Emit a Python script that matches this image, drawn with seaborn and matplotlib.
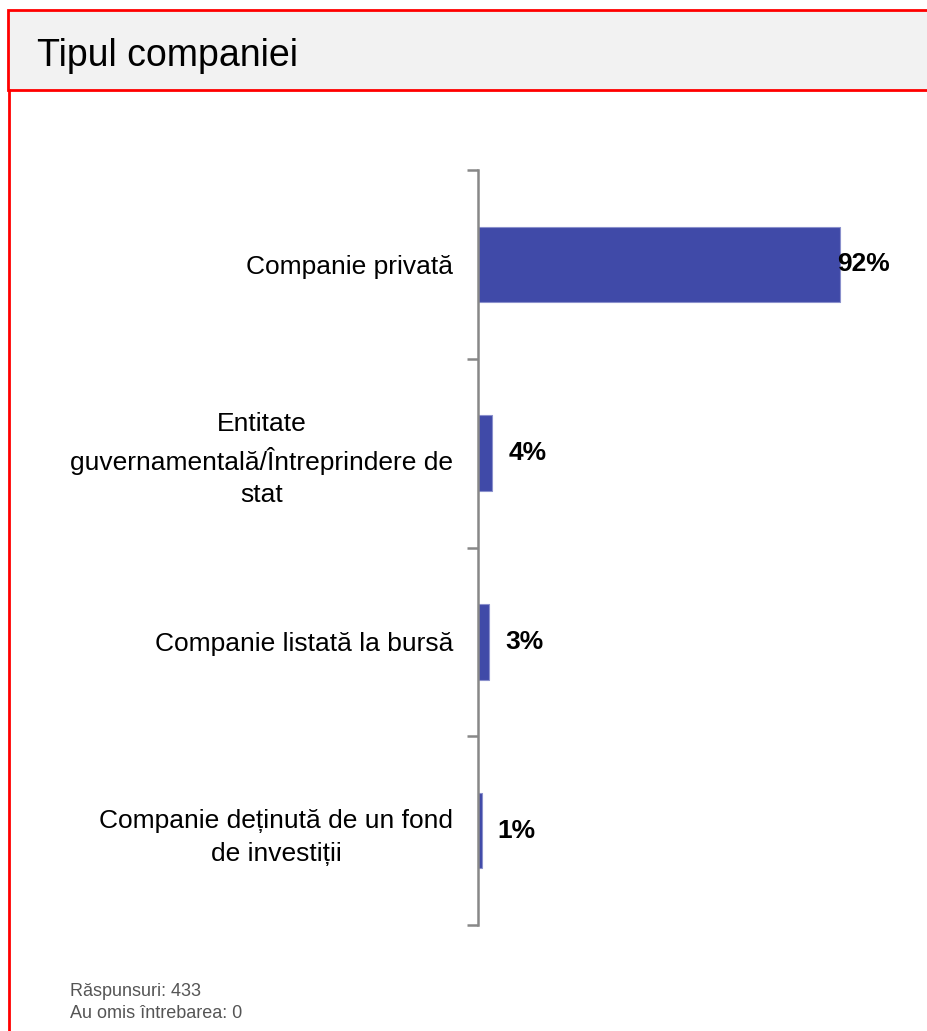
import matplotlib
matplotlib.use("Agg")
import matplotlib.pyplot as plt
import seaborn as sns
import pandas as pd
from matplotlib.patches import Rectangle
from matplotlib.lines import Line2D

# data
categories = [
    "Companie privată",
    "Entitate\nguvernamentală/Întreprindere de\nstat",
    "Companie listată la bursă",
    "Companie deținută de un fond\nde investiții",
]
percent = [92.4, 3.7, 2.8, 0.9]
title = "Tipul companiei"
footer = ["Răspunsuri: 433", "Au omis întrebarea: 0"]

df = pd.DataFrame({"categorie": categories, "procent": percent})

sns.set_style("white")
plt.rcParams["font.family"] = ["Liberation Sans", "DejaVu Sans"]
plt.rcParams["text.color"] = "black"
plt.rcParams["ytick.color"] = "black"

W, H = 928, 1031
fig = plt.figure(figsize=(W / 100, H / 100), dpi=100)

# header box and red frame
fig.patches.append(Rectangle((8 / W, 1 - 90 / H), 1, 80 / H, transform=fig.transFigure,
                             facecolor="#F2F2F2", edgecolor="#FF0000", linewidth=2, zorder=0))
fig.lines.append(Line2D([9 / W, 9 / W], [0, 1 - 90 / H], transform=fig.transFigure,
                        color="#FF0000", linewidth=2))
fig.text(37 / W, 1 - 56 / H, title, fontsize=27, va="center", ha="left", color="black")

ax = fig.add_axes([478 / W, 1 - 925 / H, (W - 478) / W, (925 - 170) / H])
sns.barplot(data=df, x="procent", y="categorie", orient="h", color="#404AA8",
            saturation=1, width=0.4, edgecolor="#8A90CC", linewidth=0.8, ax=ax)

ax.set_xlim(0, 115)
ax.set_ylim(3.5, -0.5)
ax.set_xlabel("")
ax.set_ylabel("")
ax.set_xticks([])
for s in ["top", "right", "bottom"]:
    ax.spines[s].set_visible(False)
ax.spines["left"].set_color("#888888")
ax.spines["left"].set_linewidth(1.8)

ax.set_yticks(range(len(categories)))
ax.set_yticklabels(categories, fontsize=19, multialignment="center", linespacing=1.45,
                   color="black")
ax.set_yticks([i - 0.5 for i in range(len(categories) + 1)], minor=True)
ax.tick_params(axis="y", which="major", left=False, length=0, pad=18)
ax.tick_params(axis="y", which="minor", left=True, length=8, width=1.8,
               color="#888888", direction="out")

for i, v in enumerate(percent):
    off = -2 if v > 50 else 16
    ax.annotate(f"{round(v)}%", (v, i), xytext=(off * 0.72, 0), textcoords="offset points",
                ha="left", va="center", fontsize=19, fontweight="bold", color="black",
                annotation_clip=False)

fig.text(70 / W, 1 - 992 / H, footer[0], fontsize=13, color="#555555", va="center")
fig.text(70 / W, 1 - 1013 / H, footer[1], fontsize=13, color="#555555", va="center")

fig.savefig("out.png", dpi=100, facecolor="white")
